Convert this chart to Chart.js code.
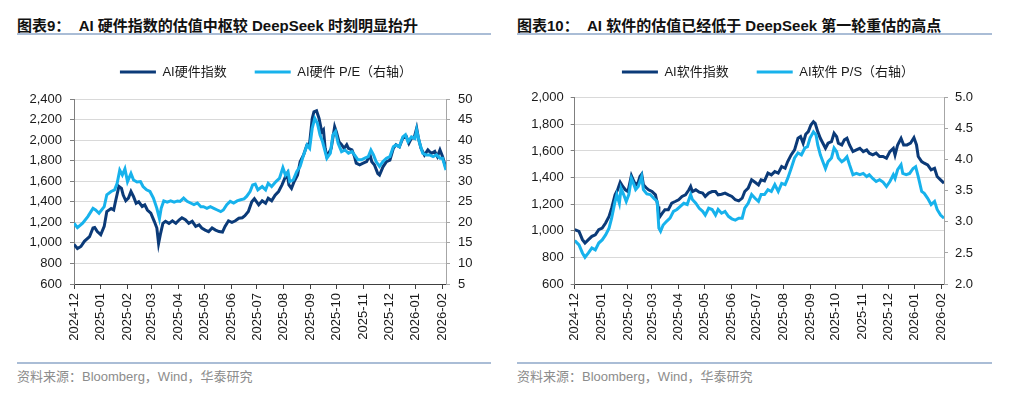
<!DOCTYPE html>
<html>
<head>
<meta charset="utf-8">
<script src="https://cdn.jsdelivr.net/npm/chart.js@4.4.1/dist/chart.umd.min.js"></script>
<style>
  body { margin: 0; background: #fff; width: 1024px; height: 399px; overflow: hidden; position: relative;
         font-family: Arial, "Liberation Sans", "Noto Sans CJK SC", sans-serif; }
  .title { position: absolute; top: 16px; font-size: 15px; line-height: 19px; font-weight: bold; color: #111; white-space: nowrap; }
  .rule { position: absolute; height: 2px; background: #aabdd6; }
  .source { position: absolute; top: 369px; font-size: 13px; line-height: 15px; color: #8c8c8c; white-space: nowrap; }
  canvas { position: absolute; top: 30px; }
</style>
</head>
<body>
<div class="title" style="left:17px">图表9：&nbsp; AI 硬件指数的估值中枢较 DeepSeek 时刻明显抬升</div>
<div class="rule" style="left:17px;width:474px;top:33px"></div>
<div class="title" style="left:517px">图表10：&nbsp; AI 软件的估值已经低于 DeepSeek 第一轮重估的高点</div>
<div class="rule" style="left:517px;width:475px;top:33px"></div>

<canvas id="hwChart" width="512" height="325" style="left:0"></canvas>
<canvas id="swChart" width="512" height="325" style="left:512px"></canvas>

<div class="rule" style="left:17px;width:474px;top:362px"></div>
<div class="source" style="left:17px">资料来源：Bloomberg，Wind，华泰研究</div>
<div class="rule" style="left:517px;width:475px;top:362px"></div>
<div class="source" style="left:517px">资料来源：Bloomberg，Wind，华泰研究</div>

<script>
// x values are days counted from 2024-12-01
const monthDays = [0, 31, 62, 90, 121, 151, 182, 212, 243, 274, 304, 335, 365, 396, 427];
const monthLabels = ["2024-12", "2025-01", "2025-02", "2025-03", "2025-04", "2025-05", "2025-06",
    "2025-07", "2025-08", "2025-09", "2025-10", "2025-11", "2025-12", "2026-01", "2026-02"];

// AI hardware index (left axis)
const hwIndexDays = [0, 4, 8, 12, 18, 22, 24, 27, 31, 35, 38, 43, 46, 48, 52, 55, 57, 60, 63, 66,
    69, 72, 75, 79, 82, 85, 89, 93, 96, 98, 100, 103, 106, 110, 114, 118, 122, 125, 129, 133,
    137, 141, 145, 148, 152, 156, 160, 164, 168, 172, 175, 179, 183, 187, 191, 195, 198, 202, 206, 209,
    214, 218, 222, 225, 229, 233, 237, 241, 245, 247, 249, 252, 255, 259, 262, 266, 270, 273, 276, 278,
    281, 284, 287, 289, 291, 293, 295, 298, 302, 304, 307, 310, 313, 316, 318, 322, 325, 327, 331, 335,
    339, 343, 345, 348, 352, 354, 358, 362, 366, 370, 373, 377, 381, 385, 388, 391, 394, 397, 399, 402,
    406, 410, 414, 418, 421, 424, 427, 431];
const hwIndex = [985, 945, 965, 1015, 1060, 1145, 1150, 1110, 1080, 1160, 1305, 1335, 1320, 1400, 1550, 1530, 1465, 1410, 1435, 1500,
    1450, 1385, 1400, 1355, 1370, 1320, 1290, 1210, 1145, 995, 1080, 1190, 1210, 1190, 1215, 1190, 1225, 1245, 1225, 1190,
    1210, 1160, 1175, 1145, 1125, 1110, 1145, 1125, 1110, 1105, 1160, 1215, 1200, 1215, 1240, 1245, 1265, 1305, 1400, 1430,
    1370, 1410, 1385, 1435, 1410, 1465, 1500, 1565, 1645, 1675, 1565, 1530, 1595, 1660, 1790, 1855, 1955, 1970, 2210, 2275,
    2285, 2210, 2080, 2100, 1920, 1840, 1870, 1920, 2130, 2080, 1985, 1955, 1920, 1955, 1920, 1905, 1840, 1775, 1760, 1775,
    1790, 1855, 1790, 1760, 1675, 1660, 1740, 1790, 1805, 1920, 1955, 1935, 2020, 2035, 1970, 2020, 2020, 2115, 2020, 1920,
    1855, 1905, 1870, 1890, 1840, 1905, 1840, 1725];

// AI hardware P/E (right axis)
const hwPeDays = [0, 4, 10, 16, 22, 25, 29, 35, 38, 43, 47, 50, 53, 56, 59, 62, 66, 69, 73, 77,
    80, 84, 88, 92, 96, 99, 101, 104, 108, 112, 116, 120, 123, 127, 131, 135, 139, 143, 147, 150,
    154, 158, 162, 166, 170, 173, 177, 181, 185, 189, 193, 197, 200, 204, 207, 210, 213, 218, 222, 225,
    229, 234, 238, 242, 245, 248, 250, 254, 258, 262, 266, 270, 273, 276, 279, 282, 285, 288, 291, 293,
    297, 300, 303, 306, 310, 314, 318, 322, 325, 329, 333, 337, 341, 344, 347, 350, 354, 358, 362, 366,
    370, 373, 377, 381, 384, 387, 391, 395, 397, 400, 404, 408, 412, 416, 420, 424, 427, 431];
const hwPe = [19.8, 18.7, 19.8, 21.4, 23.4, 23.0, 22.2, 23.8, 26.7, 27.5, 27.9, 29.5, 32.7, 31.5, 33.0, 29.9, 31.9, 30.3, 29.8, 29.9,
    28.7, 27.9, 27.5, 25.9, 23.4, 20.9, 23.4, 25.2, 24.9, 25.2, 24.9, 25.2, 25.1, 25.9, 25.1, 24.7, 24.3, 24.7, 23.8, 23.8,
    23.4, 23.8, 23.4, 23.0, 22.6, 23.0, 24.3, 25.1, 24.7, 25.2, 25.5, 25.7, 26.3, 27.5, 29.1, 29.3, 27.9, 28.7, 27.9, 29.5,
    28.7, 29.9, 30.7, 33.3, 31.5, 32.3, 29.9, 30.3, 32.3, 33.6, 36.4, 38.8, 38.0, 42.9, 45.3, 44.1, 41.3, 39.6, 37.2, 35.6,
    36.8, 41.3, 42.1, 39.2, 37.2, 37.6, 36.8, 37.2, 36.4, 35.2, 35.2, 35.6, 36.0, 37.6, 36.4, 34.8, 33.6, 34.8, 35.6, 36.0,
    38.4, 38.8, 38.4, 40.8, 41.3, 39.6, 40.8, 40.4, 42.5, 39.6, 36.8, 36.4, 36.4, 36.0, 36.4, 35.6, 35.6, 32.7];

// AI software index (left axis)
const swIndexDays = [0, 5, 9, 12, 16, 20, 24, 28, 32, 36, 40, 43, 47, 50, 53, 56, 59, 62, 66, 69,
    71, 74, 76, 78, 80, 83, 86, 90, 94, 97, 98, 102, 105, 109, 113, 117, 121, 125, 129, 133,
    135, 137, 141, 145, 149, 152, 156, 160, 164, 167, 171, 175, 179, 183, 187, 191, 195, 198, 202, 206,
    210, 214, 217, 221, 225, 229, 233, 237, 241, 245, 248, 252, 256, 260, 263, 266, 269, 272, 275, 278,
    280, 283, 286, 289, 292, 295, 299, 302, 305, 307, 311, 314, 317, 320, 324, 328, 332, 336, 340, 343,
    347, 351, 355, 359, 363, 367, 371, 373, 376, 380, 383, 387, 391, 395, 398, 400, 404, 407, 411, 415,
    419, 422, 426, 430];
const swIndex = [1008, 995, 933, 908, 933, 958, 970, 1008, 1020, 1058, 1108, 1170, 1270, 1308, 1365, 1333, 1308, 1295, 1415, 1370,
    1345, 1365, 1408, 1425, 1345, 1325, 1308, 1295, 1270, 1183, 1095, 1133, 1158, 1158, 1208, 1220, 1233, 1258, 1270, 1308,
    1333, 1295, 1308, 1290, 1283, 1258, 1283, 1295, 1295, 1270, 1275, 1283, 1270, 1258, 1233, 1225, 1245, 1295, 1320, 1383,
    1365, 1345, 1383, 1375, 1433, 1420, 1445, 1433, 1483, 1470, 1520, 1570, 1608, 1695, 1708, 1658, 1725, 1745, 1795, 1820,
    1808, 1745, 1695, 1658, 1620, 1658, 1670, 1733, 1708, 1658, 1645, 1683, 1695, 1645, 1595, 1608, 1620, 1595, 1608, 1583,
    1570, 1583, 1558, 1558, 1545, 1595, 1620, 1570, 1645, 1695, 1645, 1645, 1658, 1700, 1645, 1558, 1520, 1508, 1495, 1458,
    1470, 1408, 1383, 1358];

// AI software P/S (right axis)
const swPsDays = [0, 5, 9, 12, 16, 20, 24, 28, 32, 36, 40, 43, 47, 49, 52, 54, 57, 60, 63, 66,
    69, 71, 74, 78, 80, 84, 88, 92, 96, 98, 100, 103, 107, 111, 115, 119, 123, 127, 131, 135,
    137, 141, 145, 149, 152, 156, 160, 164, 167, 171, 175, 179, 183, 187, 191, 195, 198, 202, 206, 210,
    214, 217, 221, 225, 229, 233, 237, 241, 245, 248, 252, 256, 260, 264, 268, 271, 274, 278, 281, 283,
    286, 289, 292, 295, 299, 302, 305, 307, 311, 314, 317, 320, 324, 328, 332, 336, 340, 343, 347, 351,
    355, 359, 363, 367, 371, 373, 376, 380, 382, 386, 390, 394, 397, 400, 404, 407, 411, 415, 419, 422,
    426, 430];
const swPs = [2.70, 2.63, 2.50, 2.43, 2.50, 2.58, 2.55, 2.66, 2.71, 2.79, 2.90, 3.06, 3.33, 3.44, 3.30, 3.54, 3.44, 3.33, 3.44, 3.70,
    3.60, 3.52, 3.57, 3.73, 3.52, 3.45, 3.44, 3.38, 3.33, 2.90, 2.85, 2.95, 3.01, 3.06, 3.17, 3.20, 3.25, 3.30, 3.28, 3.44,
    3.36, 3.30, 3.22, 3.17, 3.11, 3.22, 3.20, 3.11, 3.20, 3.14, 3.17, 3.09, 3.05, 3.03, 3.06, 3.06, 3.22, 3.30, 3.44, 3.38,
    3.33, 3.44, 3.44, 3.52, 3.49, 3.60, 3.49, 3.62, 3.60, 3.70, 3.86, 4.03, 4.11, 4.08, 4.19, 4.21, 4.35, 4.45, 4.40, 4.24,
    4.08, 3.97, 3.86, 3.97, 4.03, 4.19, 4.13, 4.03, 3.97, 4.00, 4.05, 3.92, 3.76, 3.78, 3.76, 3.78, 3.73, 3.76, 3.70, 3.65,
    3.68, 3.64, 3.57, 3.65, 3.76, 3.70, 3.84, 3.92, 3.78, 3.76, 3.78, 3.86, 3.89, 3.73, 3.49, 3.46, 3.38, 3.28, 3.33, 3.20,
    3.11, 3.06];

const navy = "#0b3a78";
const sky = "#17b2ec";

Chart.defaults.font.family = 'Arial, "Liberation Sans", "Noto Sans CJK SC", sans-serif';
Chart.defaults.font.size = 13;
Chart.defaults.color = "#1a1a1a";

function toPoints(days, values) {
    return days.map((d, i) => ({ x: d, y: values[i] }));
}

function makeChart(id, o) {
    return new Chart(document.getElementById(id), {
        type: "line",
        data: {
            datasets: [
                {
                    label: o.label1,
                    data: toPoints(o.days1, o.values1),
                    yAxisID: "y",
                    borderColor: navy,
                    backgroundColor: navy,
                    borderWidth: 3,
                    pointRadius: 0,
                    tension: 0,
                    order: 1,
                },
                {
                    label: o.label2,
                    data: toPoints(o.days2, o.values2),
                    yAxisID: "y2",
                    borderColor: sky,
                    backgroundColor: sky,
                    borderWidth: 3,
                    pointRadius: 0,
                    tension: 0,
                    order: 0,
                },
            ],
        },
        options: {
            responsive: false,
            animation: false,
            events: [],
            layout: { padding: { top: o.padTop, left: o.padLeft, right: 0, bottom: 0 } },
            plugins: {
                legend: {
                    reverse: true,
                    labels: {
                        usePointStyle: true,
                        pointStyle: "line",
                        pointStyleWidth: 36,
                        padding: 28,
                        color: "#1a1a1a",
                        font: { size: 13 },
                    },
                },
                // empty spacer between legend and plot
                title: { display: true, text: "", weight: 500, padding: 0, font: { size: o.gap, lineHeight: 1 } },
                tooltip: { enabled: false },
            },
            scales: {
                x: {
                    type: "linear",
                    min: 0,
                    max: o.xMax,
                    afterBuildTicks: (axis) => {
                        axis.ticks = monthDays.map((v) => ({ value: v }));
                    },
                    afterFit: (axis) => {
                        axis.height = 71;
                    },
                    ticks: {
                        autoSkip: false,
                        minRotation: 90,
                        maxRotation: 90,
                        padding: 4,
                        callback: (v) => monthLabels[monthDays.indexOf(v)],
                    },
                    grid: { drawOnChartArea: false, tickLength: 5, tickColor: "#404040" },
                    border: { color: "#404040" },
                },
                y: {
                    position: "left",
                    min: o.yMin,
                    max: o.yMax,
                    afterFit: (axis) => {
                        axis.width = o.yWidth;
                    },
                    ticks: {
                        stepSize: 200,
                        padding: o.tickPad,
                        callback: (v) => v.toLocaleString("en-US"),
                    },
                    grid: { color: "#d9d9d9", tickLength: 4, tickColor: "#7f7f7f" },
                    border: { color: "#7f7f7f" },
                },
                y2: {
                    position: "right",
                    min: o.y2Min,
                    max: o.y2Max,
                    afterFit: (axis) => {
                        axis.width = o.y2Width;
                    },
                    ticks: {
                        stepSize: o.y2Step,
                        padding: o.tickPad,
                        callback: o.y2Format,
                    },
                    grid: { drawOnChartArea: false, tickLength: 4, tickColor: "#a6a6a6" },
                    border: { color: "#a6a6a6" },
                },
            },
        },
    });
}

makeChart("hwChart", {
    label1: "AI硬件指数",
    label2: "AI硬件 P/E（右轴）",
    days1: hwIndexDays, values1: hwIndex,
    days2: hwPeDays, values2: hwPe,
    xMax: 431,
    yMin: 600, yMax: 2400,
    y2Min: 5, y2Max: 50, y2Step: 5,
    y2Format: (v) => v,
    padTop: 7.5, padLeft: 20, gap: 10.5,
    yWidth: 54, y2Width: 66, tickPad: 8,
});

makeChart("swChart", {
    label1: "AI软件指数",
    label2: "AI软件 P/S（右轴）",
    days1: swIndexDays, values1: swIndex,
    days2: swPsDays, values2: swPs,
    xMax: 430,
    yMin: 600, yMax: 2000,
    y2Min: 2, y2Max: 5, y2Step: 0.5,
    y2Format: (v) => v.toFixed(1),
    padTop: 7.5, padLeft: 0, gap: 9.2,
    yWidth: 62.7, y2Width: 80, tickPad: 7,
});
</script>
</body>
</html>
